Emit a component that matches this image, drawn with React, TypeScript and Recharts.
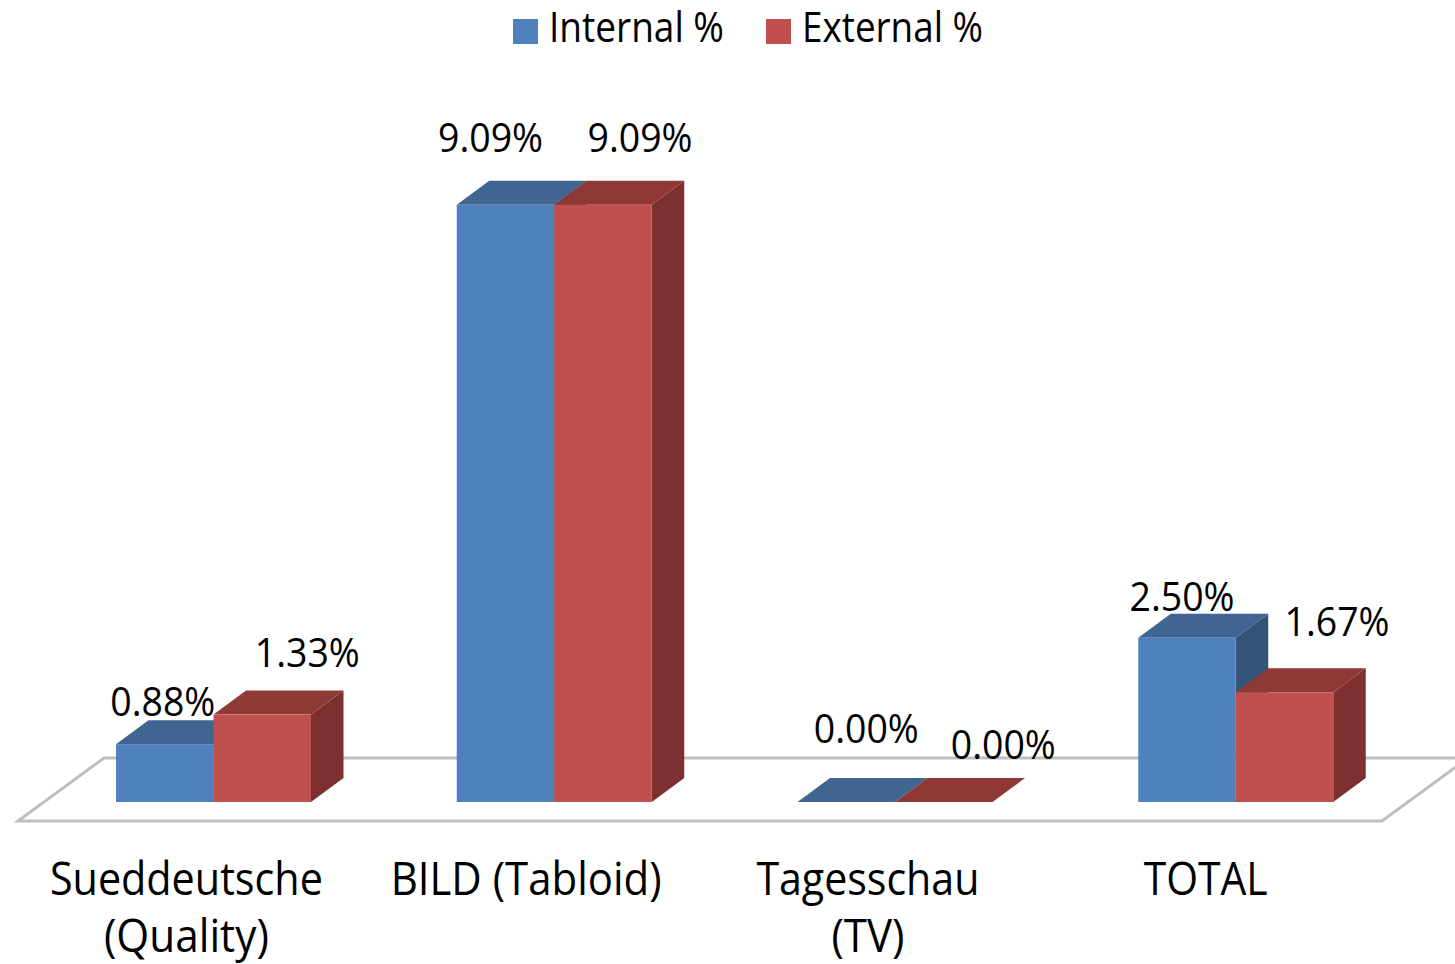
import React from 'react';
import { BarChart, Bar, XAxis, YAxis, Legend, LabelList, Customized } from 'recharts';

const categories = ['Sueddeutsche|(Quality)', 'BILD (Tabloid)', 'Tagesschau|(TV)', 'TOTAL'];
const internalPct = [0.88, 9.09, 0, 2.5];
const externalPct = [1.33, 9.09, 0, 1.67];
const data = categories.map((name, i) => ({ name, internal: internalPct[i], external: externalPct[i] }));

const FONT = '"Open Sans"';
const DX = 32.5;
const DY = 24;
const internalLabelOffsets = [[-2, -43], [-15, -67], [20, -74], [-5, -41]];
const externalLabelOffsets = [[45, -62], [37, -67], [59.5, -58], [52.5, -71]];
const tickShift = [-27, -28, -27, -30];
const tickWidths: Record<string, number> = {
  Sueddeutsche: 273, '(Quality)': 165, 'BILD (Tabloid)': 271, Tagesschau: 223, '(TV)': 73, TOTAL: 124,
};
const legendItems: Record<string, { sx: number; tx: number; w: number }> = {
  'Internal %': { sx: 513, tx: 549, w: 175 },
  'External %': { sx: 766, tx: 802, w: 181 },
};

const ctx = document.createElement('canvas').getContext('2d')!;
const squeeze = (s: string, size: number, target: number) => {
  ctx.font = `${size}px ${FONT}`;
  return target / ctx.measureText(s).width;
};

const Narrow = ({ x, y, size, width, anchor, children }: any) => (
  <text transform={`translate(${x},${y}) scale(${squeeze(children, size, width)},1)`} textAnchor={anchor}
    fontFamily={FONT} fontSize={size} fill="#000">
    {children}
  </text>
);

const shade = (top: string, side: string) => (p: any) => {
  const { x, y, width, height, fill } = p;
  return (
    <g>
      <polygon points={`${x + width},${y} ${x + width + DX},${y - DY} ${x + width + DX},${y + height - DY} ${x + width},${y + height}`} fill={side} />
      <polygon points={`${x},${y} ${x + DX},${y - DY} ${x + width + DX},${y - DY} ${x + width},${y}`} fill={top} />
      <rect x={x} y={y} width={width} height={height} fill={fill} />
    </g>
  );
};

const makeLabel = (offsets: number[][]) => (p: any) => {
  const { x, y, width, value, index } = p;
  const [dx, dy] = offsets[index];
  return (
    <Narrow x={x + width / 2 + dx} y={y + dy + 14.5} size={40} width={105} anchor="middle">
      {`${Number(value).toFixed(2)}%`}
    </Narrow>
  );
};

const Tick = (p: any) => {
  const { x, y, payload, index } = p;
  const lines = String(payload.value).split('|');
  return (
    <g>
      {lines.map((l, i) => (
        <Narrow key={l} x={x + tickShift[index]} y={y + 93 + i * 57} size={46} width={tickWidths[l]} anchor="middle">
          {l}
        </Narrow>
      ))}
    </g>
  );
};

const Floor = () => (
  <polygon points="18,821 1382,821 1468,758 104,758" fill="none" stroke="#bfbfbf" strokeWidth={3} />
);

const LegendContent = (p: any) => (
  <div style={{ position: 'relative', height: 0 }}>
    {(p.payload || []).map((e: any) => {
      const it = legendItems[e.value];
      return (
        <React.Fragment key={e.value}>
          <div style={{ position: 'absolute', left: it.sx, top: 19, width: 25, height: 25, background: e.color }} />
          <svg style={{ position: 'absolute', left: it.tx, top: 0, overflow: 'visible' }} width={it.w + 10} height={60}>
            <Narrow x={0} y={41.5} size={42} width={it.w} anchor="start">{e.value}</Narrow>
          </svg>
        </React.Fragment>
      );
    })}
  </div>
);

export default function App() {
  return (
    <div style={{ position: 'absolute', left: 0, top: 0, width: 1455, height: 964, overflow: 'hidden', background: '#fff' }}>
      <BarChart width={1455} height={964} data={data} barSize={97.5} barGap={0}
        margin={{ top: 145, right: 49, bottom: 0, left: 43 }}>
        <Customized component={Floor} />
        <XAxis dataKey="name" height={162} axisLine={false} tickLine={false} tickSize={0} tickMargin={0} tick={Tick} interval={0} />
        <YAxis hide domain={[0, 10]} />
        <Legend content={LegendContent} wrapperStyle={{ position: 'absolute', left: 0, top: 0, width: 1455, height: 0 }} />
        <Bar dataKey="internal" name="Internal %" fill="#4f81bd" isAnimationActive={false} shape={shade('#3f6590', '#335479')}>
          <LabelList dataKey="internal" content={makeLabel(internalLabelOffsets)} />
        </Bar>
        <Bar dataKey="external" name="External %" fill="#c0504d" isAnimationActive={false} shape={shade('#8f3937', '#7d302f')}>
          <LabelList dataKey="external" content={makeLabel(externalLabelOffsets)} />
        </Bar>
      </BarChart>
    </div>
  );
}
